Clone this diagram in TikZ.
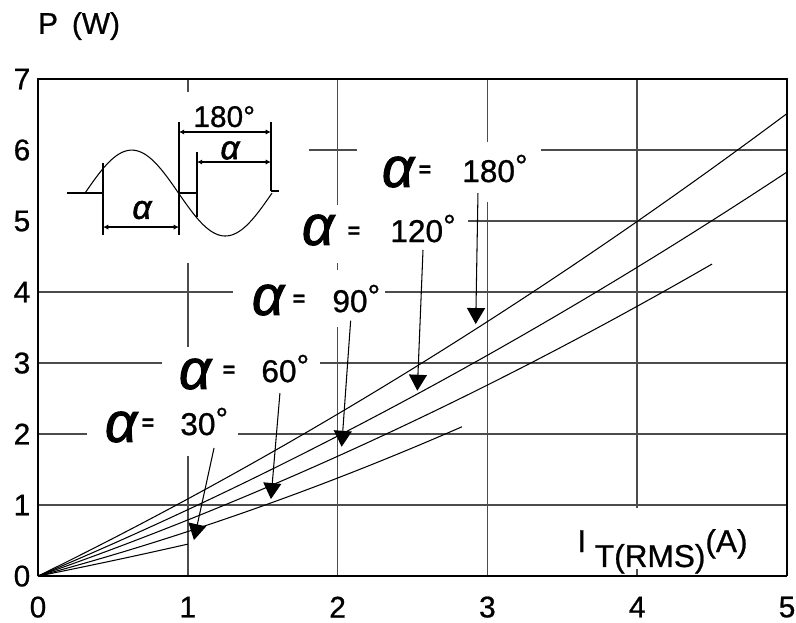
\documentclass[tikz,border=0pt]{standalone}
\usepackage{fontspec}
\setmainfont{Liberation Sans}[FakeBold=0.8]
\newfontfamily\eqfont{Liberation Sans Bold}[FakeBold=1.5]
\newfontfamily\alphafont{Liberation Sans Italic}[FakeBold=1.8]
\usetikzlibrary{arrows.meta}

\newcommand{\bigalpha}{{\alphafont\fontsize{32}{32}\selectfont α}}
\newcommand{\smallalpha}{{\alphafont\fontsize{19}{19}\selectfont α}}
\newcommand{\eqmark}{{\eqfont\fontsize{12}{12}\selectfont =}}
\newcommand{\degmark}{\raisebox{3pt}{°}}

\tikzset{
    gridline/.style={black!70, line width=0.85pt},
    curve/.style={black, line width=0.6pt},
    pointer/.style={-{Triangle[width=0.36cm, length=0.32cm]}, line width=0.6pt},
    dimline/.style={{Latex[length=3pt, width=3pt]}-{Latex[length=3pt, width=3pt]}, line width=0.9pt},
    ticklabel/.style={font=\fontsize{17}{17}\selectfont, inner sep=0pt},
    anglenum/.style={font=\fontsize{18}{18}\selectfont, inner sep=0pt, anchor=base west},
}

\begin{document}
\begin{tikzpicture}[x=3cm, y=1.422cm]
        \useasboundingbox (-0.2537, -0.648) rectangle (5.060, 8.113);

        % grid, left open behind the labels
        \draw[gridline] (0, 1) -- (5, 1);
        \draw[gridline] (0, 2) -- (0.327, 2) (1.335, 2) -- (5, 2);
        \draw[gridline] (0, 3) -- (0.828, 3) (1.883, 3) -- (5, 3);
        \draw[gridline] (0, 4) -- (1.302, 4) (2.316, 4) -- (5, 4);
        \draw[gridline] (2.870, 5) -- (5, 5);
        \draw[gridline] (1.809, 6) -- (2.130, 6) (3.358, 6) -- (5, 6);
        \draw[gridline] (1, 7) -- (1, 6.817) (1, 4.408) -- (1, 3.225) (1, 1.690) -- (1, 0);
        \draw[gridline] (2, 7) -- (2, 5.225) (2, 4.408) -- (2, 4.310) (2, 3.507) -- (2, 0);
        \draw[gridline] (3, 7) -- (3, 6.113) (3, 5.268) -- (3, 0);
        \draw[gridline] (4, 7) -- (4, 0.958) (4, 0.099) -- (4, 0);

        % frame
        \draw[line width=0.9pt] (0, 0) |- (5, 7) -- (5, 0);
        \draw[line width=1.6pt] (0, 0) -- (5, 0);

        % tick labels
        \foreach \i in {0, ..., 7} {
            \node[ticklabel] (ylab\i) at (-0.107, \i) {\i};
        }
        \foreach \i in {0, ..., 5} {
            \node[ticklabel] (xlab\i) at (\i, -0.437) {\i};
        }
        \node[font=\fontsize{17}{17}\selectfont, inner sep=0pt] (ptitle) at (0.274, 7.746) {P\hspace{0.28cm}(W)};
        \node[font=\fontsize{18}{18}\selectfont, anchor=base west, inner sep=0pt] (ititle) at (3.598, 0.338)
            {I\hspace{5pt}\raisebox{-8.5pt}{T(RMS)}(A)};

        % power curves for each conduction angle
        \foreach \a/\b/\xmax in {0.42/0.03/1, 0.564/0.0632/2.83, 0.7368/0.0533/4.5,
                                 0.8841/0.0508/5, 1.0323/0.0541/5} {
            \draw[curve] plot[domain=0:\xmax, samples=40] (\x, {\a*\x + \b*\x*\x});
        }

        % labels
        \node (a30) at (0.554, 2.099) {\bigalpha};
        \node (e30) at (0.734, 2.140) {\eqmark};
        \node[anglenum] (n30) at (0.948, 1.986) {30\degmark};
        \node (a60) at (1.048, 2.845) {\bigalpha};
        \node (e60) at (1.275, 2.885) {\eqmark};
        \node[anglenum] (n60) at (1.489, 2.732) {60\degmark};
        \node (a90) at (1.535, 3.887) {\bigalpha};
        \node (e90) at (1.742, 3.885) {\eqmark};
        \node[anglenum] (n90) at (1.963, 3.718) {90\degmark};
        \node (a120) at (1.869, 4.873) {\bigalpha};
        \node (e120) at (2.109, 4.845) {\eqmark};
        \node[anglenum] (n120) at (2.350, 4.704) {120\degmark};
        \node (a180) at (2.403, 5.690) {\bigalpha};
        \node (e180) at (2.583, 5.705) {\eqmark};
        \node[anglenum] (n180) at (2.830, 5.549) {180\degmark};

        % pointers from the labels to the curves
        \foreach \n/\sx/\sy/\tx/\ty in {30/1.175/1.803/1.041/0.507, 60/1.615/2.577/1.555/1.085,
                                       90/2.087/3.596/2.027/1.821, 120/2.570/4.592/2.532/2.610,
                                       180/2.937/5.394/2.922/3.549} {
            \coordinate (s\n) at (\sx, \sy);
            \coordinate (t\n) at (\tx, \ty);
            \draw[pointer] (s\n) -- (t\n);
        }

        % inset: gate waveform
        \draw[line width=0.6pt] plot[domain=0:360, samples=80] ({0.3138 + \x/180*0.6242}, {5.394 + 0.605*sin(\x)});
        \draw[line width=0.9pt] (0.194, 5.394) -- (0.434, 5.394);
        \draw[line width=0.9pt] (0.941, 5.394) -- (1.061, 5.394);
        \draw[line width=0.9pt] (1.555, 5.423) -- (1.608, 5.423);
        \draw[line width=0.9pt] (0.434, 5.817) -- (0.434, 4.803);
        \draw[line width=0.9pt] (0.941, 6.394) -- (0.941, 4.803);
        \draw[line width=0.9pt] (1.061, 5.972) -- (1.061, 5.056);
        \draw[line width=0.9pt] (1.555, 6.394) -- (1.555, 5.423);
        \coordinate (dimaL) at (0.434, 4.915);
        \coordinate (dimaR) at (0.941, 4.915);
        \coordinate (dimhL) at (0.941, 6.254);
        \coordinate (dimhR) at (1.555, 6.254);
        \coordinate (dimbL) at (1.061, 5.831);
        \coordinate (dimbR) at (1.555, 5.831);
        \draw[dimline] (dimaL) -- (dimaR);
        \draw[dimline] (dimhL) -- (dimhR);
        \draw[dimline] (dimbL) -- (dimbR);
        \node[inner sep=0pt] (ialow) at (0.694, 5.155) {\smallalpha};
        \node[inner sep=0pt] (iahigh) at (1.282, 5.995) {\smallalpha};
        \node[font=\fontsize{17}{17}\selectfont, anchor=base west, inner sep=0pt] (ihalf) at (1.035, 6.325) {180°};
\end{tikzpicture}
\end{document}
